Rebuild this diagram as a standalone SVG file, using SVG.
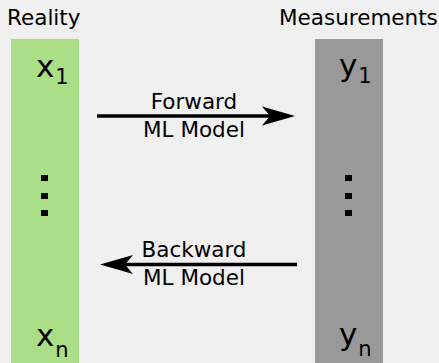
<svg xmlns="http://www.w3.org/2000/svg" width="439" height="363" viewBox="0 0 439 363">
<style>
text{font-family:"DejaVu Sans","Liberation Sans",sans-serif;fill:#000}
.hdr{font-size:21.5px}
.lbl{font-size:21.5px;text-anchor:middle}
.var{font-size:31px}
.sub{font-size:21px}
.dot{fill:#000}
.conn{stroke:#000;stroke-width:3.5;fill:none}
</style>
<rect width="439" height="363" fill="#f0f0f0"/>
<g id="reality">
<text class="hdr" x="7" y="25">Reality</text>
<rect x="11" y="39" width="68" height="324" fill="#aade87"/>
<text class="var" x="36" y="76.5">x<tspan class="sub" dx="1" dy="7">1</tspan></text>
<rect class="dot" x="41" y="175" width="7" height="6"/>
<rect class="dot" x="41" y="193" width="7" height="6"/>
<rect class="dot" x="41" y="210" width="7" height="6"/>
<text class="var" x="36" y="346">x<tspan class="sub" dx="1" dy="10.5">n</tspan></text>
</g>
<g id="measurements">
<text class="hdr" x="279" y="25">Measurements</text>
<rect x="315" y="39" width="68" height="324" fill="#999999"/>
<text class="var" x="339" y="76">y<tspan class="sub" dx="1" dy="7">1</tspan></text>
<rect class="dot" x="345" y="175" width="7" height="6"/>
<rect class="dot" x="345" y="193" width="7" height="6"/>
<rect class="dot" x="345" y="210" width="7" height="6"/>
<text class="var" x="339" y="344.5">y<tspan class="sub" dx="1" dy="11">n</tspan></text>
</g>
<g id="connectors">
<g id="forward">
<line class="conn" x1="97" y1="116" x2="272" y2="116"/>
<polygon points="295,116 262,106.5 270,116 262,125.5"/>
<text class="lbl" x="194" y="109">Forward</text>
<text class="lbl" x="194" y="137">ML Model</text>
</g>
<g id="backward">
<line class="conn" x1="125" y1="264.5" x2="297" y2="264.5"/>
<polygon points="100,264.5 133,255 125,264.5 133,274"/>
<text class="lbl" x="194" y="257">Backward</text>
<text class="lbl" x="194" y="285">ML Model</text>
</g>
</g>
</svg>
